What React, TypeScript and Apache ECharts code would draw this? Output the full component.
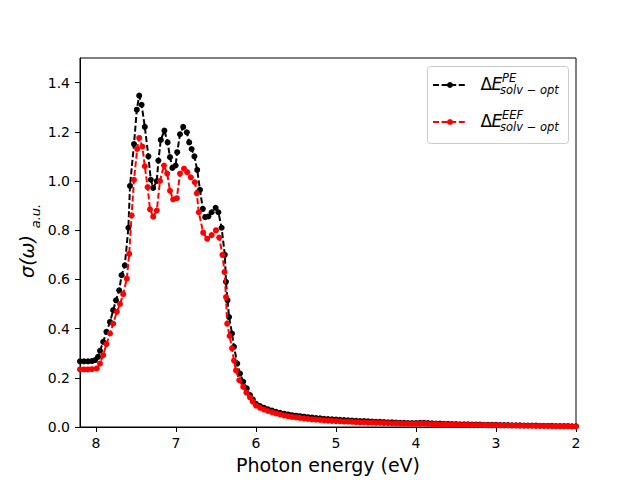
import React, { useEffect, useRef } from "react";
import * as echarts from "echarts";

// Photon energies (eV) and cross sections, peak region
const blackEnergy = [
  8.2, 8.15, 8.1, 8.05, 8.01, 7.975, 7.95, 7.91, 7.87, 7.825, 7.785, 7.75, 7.71, 7.68, 7.64, 7.595,
  7.575, 7.525, 7.49, 7.46, 7.43, 7.39, 7.345, 7.315, 7.285, 7.24, 7.22, 7.19, 7.145, 7.105, 7.075,
  7.045, 7.005, 6.985, 6.95, 6.91, 6.865, 6.835, 6.805, 6.77, 6.735, 6.7, 6.665, 6.635, 6.595, 6.555,
  6.505, 6.47, 6.43, 6.39, 6.375, 6.356, 6.337, 6.3, 6.275, 6.234, 6.2, 6.16, 6.116, 6.075, 6.04,
];
const blackValue = [
  0.267, 0.267, 0.267, 0.268, 0.272, 0.285, 0.31, 0.346, 0.387, 0.427, 0.475, 0.515, 0.556, 0.617, 0.657, 0.81,
  0.98, 1.15, 1.29, 1.347, 1.31, 1.22, 1.1, 1.005, 0.972, 1.0, 1.083, 1.167, 1.205, 1.157, 1.097,
  1.053, 1.063, 1.117, 1.19, 1.22, 1.198, 1.157, 1.13, 1.1, 1.045, 0.964, 0.887, 0.853, 0.856, 0.873,
  0.891, 0.873, 0.81, 0.7, 0.59, 0.515, 0.447, 0.38, 0.326, 0.258, 0.217, 0.184, 0.157, 0.13, 0.112,
];
const redEnergy = [
  8.2, 8.15, 8.1, 8.05, 7.99, 7.95, 7.91, 7.87, 7.825, 7.785, 7.74, 7.7, 7.66, 7.615, 7.585, 7.555,
  7.525, 7.485, 7.46, 7.42, 7.39, 7.355, 7.325, 7.285, 7.24, 7.2, 7.15, 7.11, 7.075, 7.035, 6.99,
  6.95, 6.9, 6.86, 6.815, 6.765, 6.74, 6.715, 6.66, 6.61, 6.555, 6.5, 6.46, 6.42, 6.394, 6.375, 6.36,
  6.33, 6.3, 6.275, 6.25, 6.21, 6.16, 6.12, 6.075, 6.04,
];
const redValue = [
  0.234, 0.234, 0.234, 0.235, 0.238, 0.258, 0.292, 0.337, 0.38, 0.42, 0.468, 0.5, 0.54, 0.603, 0.704, 0.86,
  1.005, 1.13, 1.175, 1.14, 1.06, 0.975, 0.885, 0.855, 0.88, 1.0, 1.063, 1.03, 0.96, 0.925, 0.93,
  1.03, 1.05, 1.036, 1.015, 0.995, 0.95, 0.873, 0.79, 0.765, 0.78, 0.8, 0.77, 0.7, 0.63, 0.528, 0.42,
  0.37, 0.32, 0.27, 0.23, 0.19, 0.163, 0.14, 0.12, 0.103,
];

// Tail region (shared energies)
const tailEnergy = [
  6.0, 5.95, 5.9, 5.85, 5.8, 5.75, 5.7, 5.65, 5.6, 5.55, 5.5, 5.45, 5.4, 5.35, 5.3, 5.25, 5.2, 5.15, 5.1, 5.05,
  5.0, 4.95, 4.9, 4.85, 4.8, 4.75, 4.7, 4.65, 4.6, 4.55, 4.5, 4.45, 4.4, 4.35, 4.3, 4.25, 4.2, 4.15, 4.1, 4.05,
  4.0, 3.95, 3.9, 3.85, 3.8, 3.75, 3.7, 3.65, 3.6, 3.55, 3.5, 3.45, 3.4, 3.35, 3.3, 3.25, 3.2, 3.15, 3.1, 3.05,
  3.0, 2.95, 2.9, 2.85, 2.8, 2.75, 2.7, 2.65, 2.6, 2.55, 2.5, 2.45, 2.4, 2.35, 2.3, 2.25, 2.2, 2.15, 2.1, 2.05,
  2.0,
];
const blackTail = [
  0.094, 0.085, 0.078, 0.072, 0.067, 0.062, 0.058, 0.054, 0.051, 0.048, 0.046, 0.044, 0.042, 0.04, 0.038, 0.036, 0.035, 0.033, 0.032, 0.031,
  0.03, 0.029, 0.028, 0.027, 0.026, 0.025, 0.024, 0.024, 0.023, 0.022, 0.021, 0.021, 0.02, 0.019, 0.019, 0.018, 0.017, 0.017, 0.016, 0.016,
  0.016, 0.017, 0.017, 0.016, 0.015, 0.014, 0.014, 0.013, 0.013, 0.012, 0.012, 0.011, 0.011, 0.011, 0.01, 0.01, 0.01, 0.009, 0.009, 0.009,
  0.009, 0.008, 0.008, 0.008, 0.007, 0.007, 0.007, 0.006, 0.006, 0.006, 0.006, 0.005, 0.005, 0.005, 0.005, 0.004, 0.004, 0.004, 0.004, 0.003,
  0.003,
];
const redTail = [
  0.087, 0.078, 0.071, 0.065, 0.06, 0.055, 0.051, 0.047, 0.044, 0.041, 0.039, 0.037, 0.035, 0.033, 0.031, 0.03, 0.029, 0.027, 0.026, 0.025,
  0.024, 0.023, 0.022, 0.022, 0.021, 0.02, 0.019, 0.019, 0.018, 0.018, 0.017, 0.017, 0.016, 0.016, 0.015, 0.015, 0.014, 0.014, 0.013, 0.013,
  0.013, 0.014, 0.014, 0.013, 0.012, 0.012, 0.011, 0.011, 0.01, 0.01, 0.01, 0.009, 0.009, 0.009, 0.008, 0.008, 0.008, 0.008, 0.007, 0.007,
  0.007, 0.007, 0.006, 0.006, 0.006, 0.006, 0.005, 0.005, 0.005, 0.005, 0.004, 0.004, 0.004, 0.004, 0.003, 0.003, 0.003, 0.003, 0.003, 0.002,
  0.002,
];

const xTicks = [2, 3, 4, 5, 6, 7, 8];
const yTicks = [0, 0.2, 0.4, 0.6, 0.8, 1.0, 1.2, 1.4];

const FONT = "DejaVu Sans";

function zip(xs: number[], ys: number[]) {
  return xs.map((x, i) => [x, ys[i]]);
}

export default function App() {
  const ref = useRef<HTMLDivElement>(null);
  useEffect(() => {
    if (!ref.current) return;
    const chart = echarts.init(ref.current, null, { renderer: "svg" });
    const blackData = zip(blackEnergy.concat(tailEnergy), blackValue.concat(blackTail));
    const redData = zip(redEnergy.concat(tailEnergy), redValue.concat(redTail));
    const dash = [6, 2.6];
    const legendText = (rows: { y: number; sup: string; supY: number; subY: number }) => [
      { type: "text", x: 480.5, y: rows.y, style: { text: "Δ", fontSize: 17, lineHeight: 11, fontFamily: FONT, fill: "#000", verticalAlign: "middle" } },
      { type: "text", x: 491.5, y: rows.y, style: { text: "E", fontSize: 17, lineHeight: 11, fontStyle: "italic", fontFamily: FONT, fill: "#000", verticalAlign: "middle" } },
      { type: "text", x: 502, y: rows.supY, style: { text: rows.sup, fontSize: 11.5, lineHeight: 8, fontStyle: "italic", fontFamily: FONT, fill: "#000", verticalAlign: "middle" } },
      { type: "text", x: 500, y: rows.subY, style: { text: "solv − opt", fontSize: 11.5, lineHeight: 7, fontStyle: "italic", fontFamily: FONT, fill: "#000", verticalAlign: "middle" } },
    ];
    chart.setOption({
      animation: false,
      textStyle: { fontFamily: FONT },
      grid: { left: 80, right: 64, top: 58, bottom: 53, show: true, borderColor: "#000", borderWidth: 1, backgroundColor: "#fff" },
      xAxis: {
        type: "value",
        inverse: true,
        min: 2,
        max: 8.2,
        interval: 1,
        splitLine: { show: false },
        axisLine: { lineStyle: { color: "#000", width: 1 } },
        axisTick: { inside: false, length: 5, customValues: xTicks, lineStyle: { color: "#000" } },
        axisLabel: { customValues: xTicks, fontSize: 14, color: "#000", margin: 9, fontFamily: FONT, formatter: (v: number) => String(v) },
      },
      yAxis: {
        type: "value",
        min: 0,
        max: 1.5,
        interval: 0.2,
        splitLine: { show: false },
        axisLine: { show: true, lineStyle: { color: "#000", width: 1 } },
        axisTick: { show: true, inside: false, length: 5, customValues: yTicks, lineStyle: { color: "#000" } },
        axisLabel: { customValues: yTicks, fontSize: 14, color: "#000", margin: 10, fontFamily: FONT, formatter: (v: number) => v.toFixed(1) },
      },
      series: [
        {
          type: "line",
          data: blackData,
          symbol: "circle",
          symbolSize: 6,
          showAllSymbol: true,
          lineStyle: { color: "#000", width: 2, type: dash },
          itemStyle: { color: "#000", borderWidth: 0 },
          z: 2,
        },
        {
          type: "line",
          data: redData,
          symbol: "circle",
          symbolSize: 6,
          showAllSymbol: true,
          lineStyle: { color: "#ff0000", width: 2, type: dash },
          itemStyle: { color: "#ff0000", borderWidth: 0 },
          z: 3,
        },
      ],
      graphic: [
        { type: "rect", z: 100, shape: { x: 427.5, y: 66.5, width: 141, height: 77, r: 3 }, style: { fill: "rgba(255,255,255,0.8)", stroke: "#cccccc", lineWidth: 1 } },
        { type: "line", z: 101, shape: { x1: 433, y1: 85, x2: 467, y2: 85 }, style: { stroke: "#000", lineWidth: 2, lineDash: dash } },
        { type: "circle", z: 101, shape: { cx: 450, cy: 85, r: 3 }, style: { fill: "#000" } },
        { type: "line", z: 101, shape: { x1: 433, y1: 122, x2: 467, y2: 122 }, style: { stroke: "#ff0000", lineWidth: 2, lineDash: dash } },
        { type: "circle", z: 101, shape: { cx: 450, cy: 122, r: 3 }, style: { fill: "#ff0000" } },
        ...legendText({ y: 83.5, sup: "PE", supY: 77.5, subY: 90 }).map((e) => ({ ...e, z: 101 })),
        ...legendText({ y: 120.6, sup: "EEF", supY: 115, subY: 127.3 }).map((e) => ({ ...e, z: 101 })),
        {
          type: "text", x: 27, y: 256.5, rotation: Math.PI / 2,
          style: { text: "σ(ω)", fontSize: 19, fontStyle: "italic", fontFamily: FONT, fill: "#000", align: "center", verticalAlign: "middle" },
        },
        {
          type: "text", x: 35, y: 216, rotation: Math.PI / 2,
          style: { text: "a.u.", fontSize: 13, fontStyle: "italic", fontFamily: FONT, fill: "#000", align: "center", verticalAlign: "middle" },
        },
        {
          type: "text", x: 328, y: 464.5,
          style: { text: "Photon energy (eV)", fontSize: 19, fontFamily: FONT, fill: "#000", align: "center", verticalAlign: "middle" },
        },
      ],
    });
    return () => chart.dispose();
  }, []);
  return <div ref={ref} style={{ position: "fixed", left: 0, top: 0, width: 640, height: 480, background: "#fff" }} />;
}
